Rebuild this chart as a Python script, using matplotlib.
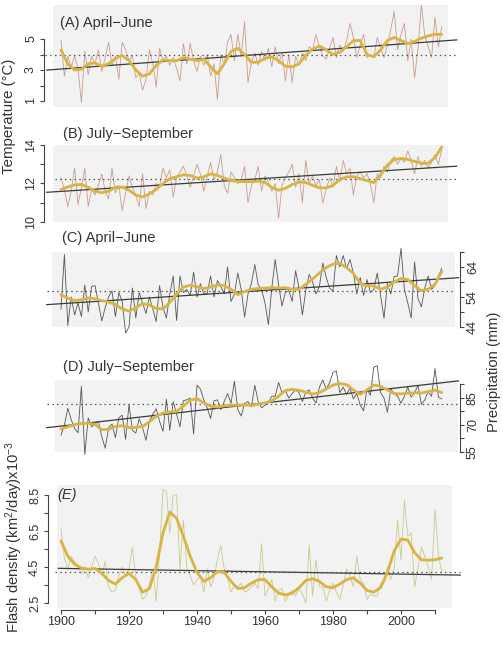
import numpy as np
import matplotlib.pyplot as plt

plt.rcParams['font.family'] = ['Liberation Sans', 'DejaVu Sans']
plt.rcParams['mathtext.fontset'] = 'custom'
plt.rcParams['mathtext.rm'] = 'Liberation Sans'
plt.rcParams['mathtext.it'] = 'Liberation Sans:italic'

# years of the annual series and of the smoothed curves
years = np.arange(1900, 2013)
smooth_years = np.arange(1900, 2013, 2)

# (A) temperature April-June, degC
temp_aj = [4.9, 2.6, 3.9, 3.2, 3.9, 3.1, 0.9, 4.2, 2.7, 3.9,
           3.4, 4.3, 2.9, 3.8, 4.8, 3.3, 3.9, 2.4, 4.8, 4.3,
           3.6, 3.9, 2.5, 2.8, 1.7, 2.4, 4.3, 3.4, 1.9, 4.4,
           3.6, 3.9, 3.3, 3.8, 3.1, 2.3, 4.7, 3.4, 4.7, 3.6,
           2.9, 3.9, 3.3, 4.0, 2.6, 3.4, 1.1, 4.0, 3.3, 4.8,
           5.3, 3.6, 5.3, 3.9, 6.1, 2.2, 3.5, 4.1, 3.3, 4.2,
           3.6, 4.4, 3.2, 4.5, 3.4, 4.1, 2.3, 4.0, 2.2, 3.9,
           3.3, 4.1, 3.6, 4.5, 4.3, 5.3, 4.5, 3.9, 3.7, 4.4,
           5.1, 3.8, 4.6, 4.2, 4.9, 6.0, 5.1, 3.8, 4.6, 5.3,
           3.8, 4.0, 3.8, 5.1, 4.4, 3.8, 4.6, 5.6, 6.8, 4.3,
           5.3, 6.0, 3.6, 5.0, 2.5, 4.4, 7.2, 5.2, 4.5, 3.8,
           6.4, 4.5, 5.8]
temp_aj_smooth = [4.3, 3.4, 3.0, 3.05, 3.4, 3.45, 3.25, 3.4, 3.75, 3.95,
                  3.6, 3.0, 2.6, 2.75, 3.3, 3.65, 3.6, 3.6, 3.8, 3.7,
                  3.6, 3.7, 3.2, 2.75, 3.4, 4.2, 4.4, 4.0, 3.5, 3.5,
                  3.75, 3.85, 3.6, 3.25, 3.2, 3.4, 3.95, 4.35, 4.55, 4.3,
                  4.0, 4.15, 4.5, 4.9, 4.9, 4.0, 3.85, 4.3, 4.9, 5.1,
                  4.9, 4.7, 4.85, 5.05, 5.2, 5.3, 5.3]

# (B) temperature July-September, degC
temp_js = [12.3, 11.7, 10.8, 11.6, 12.8, 10.9, 11.8, 12.8, 10.8, 11.7,
           11.4, 11.9, 12.5, 11.6, 11.2, 12.8, 11.5, 11.9, 10.6, 11.5,
           12.4, 11.8, 11.4, 10.8, 12.5, 10.7, 11.6, 11.4, 12.0, 11.9,
           12.8, 12.3, 12.7, 11.3, 12.3, 12.6, 12.9, 12.4, 11.8, 12.4,
           13.0, 12.5, 11.6, 12.4, 13.1, 12.2, 12.6, 13.5, 11.9, 11.5,
           12.6, 12.3, 12.0, 12.2, 12.9, 11.0, 11.9, 12.2, 12.9, 11.6,
           12.4, 12.1, 11.6, 12.0, 10.2, 11.9, 12.3, 12.6, 13.0, 11.8,
           12.5, 11.0, 13.2, 12.0, 12.4, 11.9, 12.2, 11.0, 11.7, 12.3,
           11.8, 12.9, 12.1, 13.2, 12.5, 12.8, 11.4, 12.4, 12.6, 12.3,
           12.5, 12.0, 11.0, 12.5, 12.3, 12.9, 12.6, 13.2, 13.4, 13.0,
           13.3, 13.1, 13.7, 13.2, 12.5, 13.4, 12.9, 13.2, 12.8, 13.1,
           13.5, 13.0, 13.8]
temp_js_smooth = [11.69, 11.82, 11.93, 11.95, 11.8, 11.6, 11.52, 11.6, 11.8, 11.82,
                  11.65, 11.4, 11.3, 11.45, 11.7, 12.0, 12.25, 12.35, 12.45, 12.42,
                  12.28, 12.35, 12.5, 12.42, 12.28, 12.15, 12.1, 12.1, 12.1, 12.12,
                  12.05, 11.8, 11.65, 11.75, 11.95, 12.08, 12.05, 11.9, 11.78, 11.77,
                  11.9, 12.2, 12.35, 12.35, 12.25, 12.15, 12.05, 12.45, 12.95, 13.25,
                  13.3, 13.25, 13.15, 13.05, 13.05, 13.35, 13.9]

# (C) precipitation April-June, mm
prec_aj = [50.0, 68.2, 44.5, 54.0, 48.0, 52.0, 47.5, 58.0, 49.0, 57.5,
           57.8, 52.0, 46.0, 50.5, 54.0, 56.0, 47.5, 55.5, 52.5, 42.0,
           44.0, 57.0, 47.0, 55.5, 52.0, 48.5, 54.0, 50.0, 45.8, 57.8,
           50.5, 47.0, 55.0, 61.0, 46.2, 61.0, 55.5, 56.5, 54.5, 62.3,
           54.0, 58.5, 55.0, 55.3, 61.0, 54.0, 59.5, 57.5, 55.0, 64.0,
           52.5, 55.0, 62.0, 56.5, 47.3, 55.0, 58.5, 64.8, 58.0, 56.5,
           52.0, 44.8, 57.0, 66.5, 58.0, 51.0, 55.5, 56.2, 52.5, 62.8,
           57.0, 48.0, 56.2, 61.5, 59.0, 55.0, 57.5, 65.3, 60.5, 57.0,
           56.0, 67.8, 64.0, 67.8, 63.5, 66.5, 62.0, 55.0, 60.5, 54.5,
           59.8, 55.5, 56.5, 62.0, 54.5, 46.9, 58.5, 55.0, 60.8, 61.0,
           70.2, 56.5, 52.0, 47.0, 65.7, 53.5, 50.7, 57.0, 61.0, 56.5,
           58.0, 61.0, 63.6]
prec_aj_smooth = [54.8, 53.6, 52.8, 53.1, 53.7, 53.4, 52.8, 52.3, 51.5, 50.0,
                  49.3, 50.4, 51.8, 51.3, 50.2, 50.0, 52.2, 55.0, 57.3, 57.9,
                  57.4, 56.8, 57.3, 58.0, 57.8, 56.6, 54.8, 55.8, 56.6, 56.8,
                  57.0, 57.1, 57.0, 57.1, 56.6, 56.5, 58.2, 60.0, 62.0, 63.8,
                  65.0, 65.2, 63.8, 61.9, 58.5, 57.8, 57.7, 56.6, 57.3, 59.0,
                  60.2, 59.8, 57.8, 56.1, 56.6, 58.2, 62.5]

# (D) precipitation July-September, mm
prec_js = [64.3, 70.0, 79.3, 73.0, 68.0, 65.7, 91.4, 53.6, 74.0, 69.0,
           70.5, 72.0, 63.5, 57.1, 68.5, 70.5, 63.0, 74.0, 75.5, 62.0,
           81.4, 67.0, 65.5, 73.5, 68.5, 61.5, 72.0, 76.0, 79.0, 72.0,
           66.5, 84.3, 67.0, 83.0, 76.0, 69.0, 83.5, 84.0, 85.0, 65.0,
           92.1, 90.0, 84.0, 79.5, 73.6, 83.5, 84.0, 78.5, 83.0, 87.5,
           82.0, 94.3, 78.5, 75.0, 82.0, 83.0, 80.0, 92.1, 83.0, 79.5,
           81.0, 82.5, 86.0, 86.0, 93.6, 88.0, 89.0, 85.0, 87.5, 89.5,
           88.0, 83.0, 88.5, 89.5, 85.0, 82.1, 91.0, 95.0, 90.0, 93.5,
           99.3, 100.0, 88.0, 91.0, 87.0, 90.5, 84.5, 87.5, 81.0, 77.9,
           90.0, 86.5, 102.1, 102.9, 88.0, 85.0, 77.1, 90.0, 87.5, 86.0,
           82.1, 86.0, 91.0, 85.5, 88.0, 92.0, 81.5, 84.0, 88.5, 86.0,
           101.4, 85.5, 84.5]
prec_js_smooth = [67.8, 69.0, 70.2, 70.8, 71.0, 70.3, 67.4, 67.6, 69.2, 69.6,
                  68.6, 68.6, 69.2, 71.8, 74.8, 76.6, 77.2, 77.6, 80.5, 83.8,
                  84.6, 82.2, 80.5, 80.0, 80.6, 81.0, 81.0, 81.2, 80.8, 81.6,
                  82.3, 83.5, 86.0, 89.2, 89.8, 89.3, 88.2, 87.2, 88.0, 90.0,
                  92.2, 93.0, 92.4, 89.5, 87.0, 89.5, 92.2, 91.5, 89.5, 87.5,
                  87.3, 87.6, 87.9, 87.8, 88.6, 89.4, 88.0]

# (E) flash density, km2/day x 1e-3
flash = [6.6, 5.0, 4.4, 5.1, 4.8, 4.6, 4.1, 4.5, 3.9, 4.5,
         5.1, 4.7, 4.0, 4.8, 3.4, 3.1, 3.2, 4.0, 4.5, 4.0,
         4.4, 5.6, 3.9, 3.3, 2.7, 2.9, 3.5, 4.4, 2.6, 5.3,
         8.8, 8.7, 6.4, 8.5, 8.5, 4.4, 7.1, 4.5, 4.0, 3.5,
         3.8, 4.0, 3.1, 4.4, 3.4, 3.9, 4.9, 5.7, 4.4, 3.9,
         3.1, 3.5, 3.4, 3.6, 3.1, 3.2, 3.4, 3.6, 3.3, 5.8,
         2.9, 3.3, 3.8, 2.6, 3.2, 3.3, 2.6, 3.0, 3.2, 2.9,
         3.3, 3.0, 2.5, 5.7, 2.9, 4.9, 3.4, 3.4, 2.6, 3.2,
         3.6, 3.1, 2.7, 3.5, 4.4, 4.0, 3.4, 5.1, 3.8, 3.6,
         2.7, 3.0, 2.9, 2.9, 3.6, 3.6, 4.5, 3.8, 4.4, 7.1,
         4.9, 8.2, 6.2, 6.4, 3.4, 4.4, 5.6, 5.1, 4.5, 3.8,
         7.7, 5.2, 4.2]
flash_smooth = [5.95, 5.1, 4.65, 4.45, 4.38, 4.42, 4.15, 3.75, 3.55, 3.9,
                4.15, 3.8, 3.1, 3.3, 4.5, 6.4, 7.55, 7.2, 6.2, 5.1,
                4.2, 3.7, 3.9, 4.25, 4.2, 3.7, 3.3, 3.35, 3.6, 3.8,
                3.8, 3.4, 3.05, 2.95, 3.05, 3.35, 3.75, 3.85, 3.7, 3.4,
                3.35, 3.55, 3.8, 3.9, 3.6, 3.2, 3.1, 3.35, 4.2, 5.4,
                6.05, 6.0, 5.3, 4.9, 4.88, 4.9, 5.0]

W, H = 503, 646
fig = plt.figure(figsize=(W / 100, H / 100), dpi=100)

SMOOTH = '#d9b443'
TXT = '#333333'
AXC = '#444444'


def year_at(px):
    # 1900 sits at x=61 px, 3.4 px per year
    return 1900 + (px - 61) / 3.4


def panel(box, vref, side, spine_off, ticks, labels, raw, smooth, raw_color,
          trend_span, mean_span):
    x0, y0, x1, y1 = box
    ax = fig.add_axes([x0 / W, 1 - y1 / H, (x1 - x0) / W, (y1 - y0) / H])
    ax.set_facecolor('#f2f2f2')
    (v1, p1), (v2, p2) = vref
    k = (v2 - v1) / (p2 - p1)
    ax.set_ylim(v1 + (y1 - p1) * k, v1 + (y0 - p1) * k)
    ax.set_xlim(year_at(x0), year_at(x1))

    ax.plot(years, raw, color=raw_color, lw=0.6, clip_on=False, zorder=2)
    ax.plot(smooth_years, smooth, color=SMOOTH, lw=2.0, clip_on=False,
            zorder=4, solid_capstyle='round')
    slope, icpt = np.polyfit(years, raw, 1)
    ts = np.array(trend_span)
    ax.plot(ts, icpt + slope * ts, color='#3a3a3a', lw=0.9, clip_on=False,
            zorder=3)
    ax.plot(mean_span, [np.mean(raw)] * 2, color='#555555', lw=0.9,
            ls=(0, (1.2, 2.6)), clip_on=False, zorder=3)

    for s in ax.spines.values():
        s.set_visible(False)
    sp = ax.spines[side]
    sp.set_visible(True)
    sp.set_position(('outward', spine_off * 0.72))
    sp.set_bounds(ticks[0], ticks[-1])
    sp.set_color(AXC)
    sp.set_linewidth(0.8)
    if side == 'right':
        ax.yaxis.tick_right()
    else:
        ax.yaxis.tick_left()
    ax.set_yticks(ticks)
    ax.set_yticklabels(labels)
    ax.tick_params(axis='y', direction='out', length=3, width=0.8,
                   colors=AXC, labelcolor=TXT, labelsize=9, pad=2,
                   labelrotation=90)
    for lab in ax.get_yticklabels():
        lab.set_va('center')
    ax.set_xticks([])
    return ax


panel((53, 5, 448, 107), ((5, 39), (1, 101)), 'left', 9,
      [1, 2, 3, 4, 5], ['1', '', '3', '', '5'],
      temp_aj, temp_aj_smooth, '#c99d8e', (1895.8, 2016.4), (1895.3, 2016.8))
panel((53, 145, 448, 222), ((14, 134), (10, 227)), 'left', 9,
      [10, 11, 12, 13, 14], ['10', '', '12', '', '14'],
      temp_js, temp_js_smooth, '#c99d8e', (1895.8, 2016.4), (1898.2, 2016.6))
panel((52, 252, 455, 327), ((64, 260), (44, 344)), 'right', 5,
      [44, 49, 54, 59, 64, 69], ['44', '', '54', '', '64', ''],
      prec_aj, prec_aj_smooth, '#555555', (1895.8, 2016.9), (1895.8, 2015.4))
panel((55, 380, 458, 452), ((85, 403), (55, 472)), 'right', 2,
      [55, 62.5, 70, 77.5, 85, 92.5], ['55', '', '70', '', '85', ''],
      prec_js, prec_js_smooth, '#555555', (1895.8, 2016.9), (1895.8, 2016.4))
axE = panel((57, 485, 452, 608), ((8.5, 495), (2.5, 603)), 'left', 9,
            [2.5, 3.5, 4.5, 5.5, 6.5, 7.5, 8.5],
            ['2.5', '', '4.5', '', '6.5', '', '8.5'],
            flash, flash_smooth, '#c7ca8e', (1899.2, 2017.4), (1898.2, 2017.4))

# shared time axis under the last panel
axE.spines['bottom'].set_visible(True)
axE.spines['bottom'].set_position(('outward', 2 * 0.72))
axE.spines['bottom'].set_bounds(1900, 2010)
axE.spines['bottom'].set_color(AXC)
axE.spines['bottom'].set_linewidth(0.8)
axE.set_xticks(range(1900, 2011, 10))
axE.set_xticklabels([str(y) if y % 20 == 0 else '' for y in range(1900, 2011, 10)])
axE.tick_params(axis='x', direction='out', length=3, width=0.8, colors=AXC,
                labelcolor=TXT, labelsize=9, pad=1)

# panel titles
titles = [('(A) April\u2212June', 60, 23, 'normal'),
          ('(B) July\u2212September', 63, 134, 'normal'),
          ('(C) April\u2212June', 62, 238, 'normal'),
          ('(D) July\u2212September', 63, 367, 'normal'),
          ('(E)', 57, 495, 'italic')]
for txt, tx, ty, st in titles:
    fig.text(tx / W, 1 - ty / H, txt, ha='left', va='center', fontsize=10.5,
             color=TXT, style=st)

# axis titles
fig.text(9 / W, 1 - 116 / H, 'Temperature (\u00b0C)', rotation=90,
         ha='center', va='center', fontsize=10.8, color=TXT)
fig.text(494 / W, 1 - 372 / H, 'Precipitation (mm)', rotation=90,
         ha='center', va='center', fontsize=10.6, color=TXT)
fig.text(14 / W, 1 - 537 / H, r'Flash density (km$^2$/day)x10$^{-3}$',
         rotation=90, ha='center', va='center', fontsize=10.6, color=TXT)

fig.savefig('out.png', dpi=100, facecolor='white')
